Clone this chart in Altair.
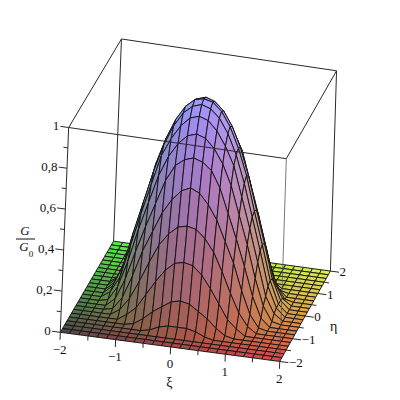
import numpy as np
import pandas as pd
import altair as alt

# grid of the surface (25 x 25 points, step 1/6), rows go from eta=-2 to eta=2
grid_ticks = [k / 6 for k in range(-12, 13)]
G = [
 [0]*25, [0]*25, [0]*25,
 [0,0,0,0,0,0,0,0,0,.01,.03,.04,.04,.04,.03,.01,0,0,0,0,0,0,0,0,0],
 [0,0,0,0,0,0,0,.01,.04,.08,.11,.14,.15,.14,.11,.08,.04,.01,0,0,0,0,0,0,0],
 [0,0,0,0,0,0,.03,.07,.14,.21,.27,.31,.32,.31,.27,.21,.14,.07,.03,0,0,0,0,0,0],
 [0,0,0,0,0,.03,.09,.18,.28,.37,.43,.47,.48,.47,.43,.37,.28,.18,.09,.03,0,0,0,0,0],
 [0,0,0,0,.01,.07,.18,.31,.41,.51,.58,.63,.65,.63,.58,.51,.41,.31,.18,.07,.01,0,0,0,0],
 [0,0,0,0,.04,.14,.28,.41,.53,.65,.73,.765,.78,.765,.73,.65,.53,.41,.28,.14,.04,0,0,0,0],
 [0,0,0,.01,.08,.21,.37,.51,.65,.75,.82,.865,.88,.865,.82,.75,.65,.51,.37,.21,.08,.01,0,0,0],
 [0,0,0,.03,.11,.27,.43,.58,.73,.82,.89,.935,.95,.935,.89,.82,.73,.58,.43,.27,.11,.03,0,0,0],
 [0,0,0,.04,.14,.31,.47,.63,.765,.865,.935,.975,.99,.975,.935,.865,.765,.63,.47,.31,.14,.04,0,0,0],
 [0,0,0,.04,.15,.32,.48,.65,.78,.88,.95,.99,1,.99,.95,.88,.78,.65,.48,.32,.15,.04,0,0,0],
 [0,0,0,.04,.14,.31,.47,.63,.765,.865,.935,.975,.99,.975,.935,.865,.765,.63,.47,.31,.14,.04,0,0,0],
 [0,0,0,.03,.11,.27,.43,.58,.73,.82,.89,.935,.95,.935,.89,.82,.73,.58,.43,.27,.11,.03,0,0,0],
 [0,0,0,.01,.08,.21,.37,.51,.65,.75,.82,.865,.88,.865,.82,.75,.65,.51,.37,.21,.08,.01,0,0,0],
 [0,0,0,0,.04,.14,.28,.41,.53,.65,.73,.765,.78,.765,.73,.65,.53,.41,.28,.14,.04,0,0,0,0],
 [0,0,0,0,.01,.07,.18,.31,.41,.51,.58,.63,.65,.63,.58,.51,.41,.31,.18,.07,.01,0,0,0,0],
 [0,0,0,0,0,.03,.09,.18,.28,.37,.43,.47,.48,.47,.43,.37,.28,.18,.09,.03,0,0,0,0,0],
 [0,0,0,0,0,0,.03,.07,.14,.21,.27,.31,.32,.31,.27,.21,.14,.07,.03,0,0,0,0,0,0],
 [0,0,0,0,0,0,0,.01,.04,.08,.11,.14,.15,.14,.11,.08,.04,.01,0,0,0,0,0,0,0],
 [0,0,0,0,0,0,0,0,0,.01,.03,.04,.04,.04,.03,.01,0,0,0,0,0,0,0,0,0],
 [0]*25, [0]*25, [0]*25,
]
xi_labels = ["\u22122", "\u22121", "0", "1", "2"]
xi_major = [-2, -1, 0, 1, 2]
eta_labels = ["\u22122", "\u22121", "0", "1", "2"]
z_labels = ["0", "0,2", "0,4", "0,6", "0,8", "1"]
z_major = [0, .2, .4, .6, .8, 1]

# camera calibrated on the eight box corners (data corner -> picture position)
box_3d = [(-2,-2,0),(2,-2,0),(2,2,0),(-2,2,0),(-2,-2,1),(2,-2,1),(2,2,1),(-2,2,1)]
box_2d = [(61,332),(279,362),(331,271),(113,241),(68,129),(287,157),(336,72),(122,38)]
A, b = [], []
for (X, Y, Z), (u, v) in zip(box_3d, box_2d):
    A.append([X, Y, Z, 1, 0, 0, 0, 0, -u*X, -u*Y, -u*Z]); b.append(u)
    A.append([0, 0, 0, 0, X, Y, Z, 1, -v*X, -v*Y, -v*Z]); b.append(v)
p = np.linalg.lstsq(np.array(A, float), np.array(b, float), rcond=None)[0]
P = np.append(p, 1).reshape(3, 4)

def proj(x, y, z):
    h = P @ np.array([x, y, z, 1.0])
    return float(h[0] / h[2]), float(h[1] / h[2])

def colour(x, y, z):
    t = (x + 2) / 4
    s = (y + 2) / 4
    r = 72 + 153 * t ** 0.75
    g = 68 + 172 * s ** 0.95
    b = 72 + 183 * z
    return "#%02x%02x%02x" % (int(r), int(g), int(min(b, 255)))

# quads, painted from the far corner to the near one
features = []
n = len(grid_ticks)
for j in range(n - 2, -1, -1):
    for i in range(n - 1):
        corners = [(i, j), (i + 1, j), (i + 1, j + 1), (i, j + 1)]
        pts = [(grid_ticks[a], grid_ticks[c], G[c][a]) for a, c in corners]
        ring = []
        for q in pts:
            u, v = proj(*q)
            ring.append([u - 8, v - 8])
        ring.append(ring[0])
        m = np.mean(pts, axis=0)
        features.append({"type": "Feature",
                         "geometry": {"type": "Polygon", "coordinates": [ring]},
                         "properties": {"c": colour(*m)}})

surface = alt.Chart(alt.Data(values=features)).mark_geoshape(
    stroke="#141414", strokeWidth=1.0, strokeOpacity=0.95
).encode(
    fill=alt.Fill("properties.c:N", scale=None)
).project(type="identity", scale=1, translate=[0, 0])

def segs(items):
    rows = []
    for a, c in items:
        ua, va = proj(*a)
        uc, vc = proj(*c)
        rows.append({"x": ua, "y": va, "x2": uc, "y2": vc})
    return pd.DataFrame(rows)

xs = alt.X("x:Q", scale=alt.Scale(domain=[8, 392], nice=False), axis=None)
ys = alt.Y("y:Q", scale=alt.Scale(domain=[392, 8], nice=False), axis=None)

def rules(items, color="#2a2a2a", width=1.0):
    return alt.Chart(segs(items)).mark_rule(color=color, strokeWidth=width).encode(
        x=xs, y=ys, x2="x2:Q", y2="y2:Q")

back_edges = [((-2,2,0),(-2,2,1)), ((2,2,0),(2,2,1)), ((-2,2,1),(2,2,1)),
              ((-2,-2,1),(-2,2,1)), ((2,-2,1),(2,2,1))]
front_edges = [((-2,-2,1),(2,-2,1)), ((-2,-2,0),(-2,-2,1))]
faint_edge = [((2,-2,0),(2,-2,1))]

ticks = []
for v in [-2,-1.5,-1,-.5,0,.5,1,1.5,2]:
    L = .036 if float(v).is_integer() else .022
    ticks.append(((v,-2,0),(v,-2,-L)))
    L2 = .16 if float(v).is_integer() else .09
    ticks.append(((2,v,0),(2+L2,v,0)))
for k in range(0, 11):
    v = k / 10
    L = .15 if k % 2 == 0 else .08
    ticks.append(((-2,-2,v),(-2-L,-2,v)))

def labels(rows, align, size=13, style="normal"):
    out = []
    for text, pos in rows:
        u, v = proj(*pos)
        out.append({"x": u, "y": v, "t": text})
    return alt.Chart(pd.DataFrame(out)).mark_text(
        align=align, baseline="middle", font="Liberation Serif", fontSize=size,
        fontStyle=style, color="#111111"
    ).encode(x=xs, y=ys, text="t:N")

xi_text = labels([(t, (v, -2, -0.085)) for t, v in zip(xi_labels, xi_major)], "center")
eta_text = labels([(t, (2.17, v, 0)) for t, v in zip(eta_labels, xi_major)], "left")
z_text = labels([(t, (-2.17, -2, v)) for t, v in zip(z_labels, z_major)], "right")
xi_title = labels([("\u03be", (0, -2, -0.175))], "center", 14)
eta_title = labels([("\u03b7", (2.6, -0.3, 0))], "center", 14)

# the stacked G / G0 axis title, placed in picture units
frac = pd.DataFrame([{"x": 16, "x2": 35, "y": 239}])
frac_bar = alt.Chart(frac).mark_rule(color="#111111", strokeWidth=1).encode(x=xs, x2="x2:Q", y=ys)
frac_top = alt.Chart(pd.DataFrame([{"x": 25, "y": 231, "t": "G"}])).mark_text(
    font="Liberation Serif", fontStyle="italic", fontSize=13, color="#111111", baseline="middle", align="center"
).encode(x=xs, y=ys, text="t:N")
frac_low = alt.Chart(pd.DataFrame([{"x": 24, "y": 247, "t": "G"}])).mark_text(
    font="Liberation Serif", fontStyle="italic", fontSize=13, color="#111111", baseline="middle", align="center"
).encode(x=xs, y=ys, text="t:N")
frac_sub = alt.Chart(pd.DataFrame([{"x": 31, "y": 254, "t": "0"}])).mark_text(
    font="Liberation Serif", fontSize=9, color="#111111", baseline="middle", align="center"
).encode(x=xs, y=ys, text="t:N")

chart = alt.layer(
    rules(back_edges),
    surface,
    rules(front_edges),
    rules(faint_edge, color="#555555", width=0.8),
    rules(ticks),
    xi_text, eta_text, z_text, xi_title, eta_title,
    frac_bar, frac_top, frac_low, frac_sub,
).properties(
    width=384, height=384, padding=0, autosize=alt.AutoSizeParams(type="none")
).configure_view(stroke=None)

chart.save("out.html", embed_options={"renderer": "svg", "actions": False})
